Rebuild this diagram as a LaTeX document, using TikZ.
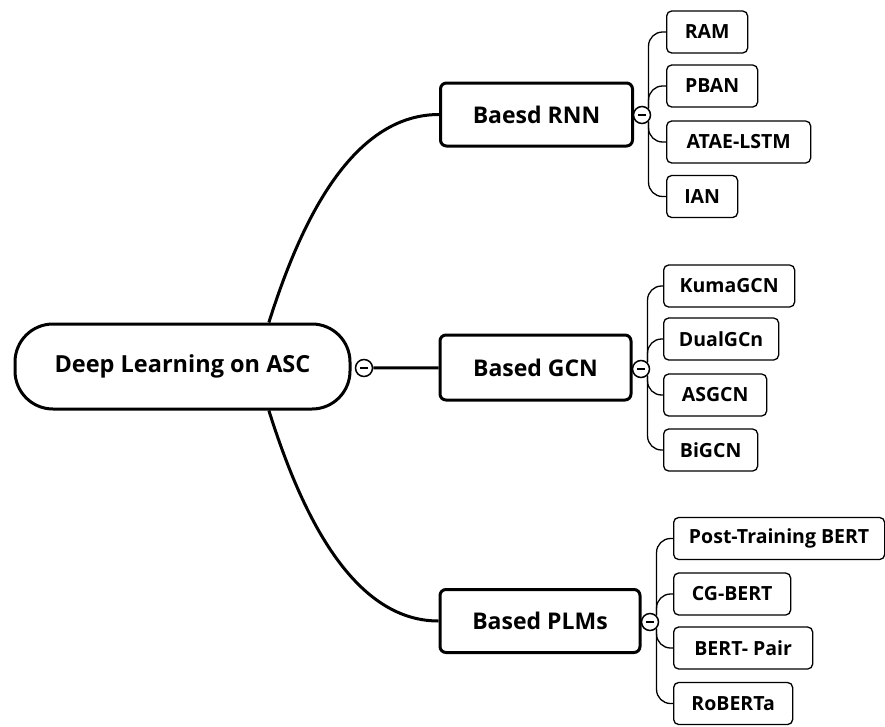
\documentclass[tikz,border=0pt]{standalone}
\usepackage{fontspec}
\setmainfont{Open Sans}
\begin{document}
\begin{tikzpicture}[x=1pt, y=-1pt,
% common options for the root:
hub/.style = {draw, line width=3pt, rounded corners=38pt, minimum width=335pt,
            minimum height=85pt, font=\fontsize{23.5}{27}\selectfont\bfseries},
% common options for the branch boxes:
branch/.style = {draw, line width=3pt, rounded corners=6pt, minimum width=192pt,
            minimum height=63pt, font=\fontsize{23}{27}\selectfont\bfseries},
% common options for the leaf boxes:
leaf/.style = {draw, line width=1.3pt, rounded corners=5pt, anchor=west,
            minimum height=42pt, inner xsep=15pt, font=\fontsize{19.5}{23}\selectfont\bfseries},
% the small collapse buttons:
toggle/.style = {circle, draw, fill=white, line width=1.5pt, minimum size=17pt, inner sep=0},
trunk/.style = {line width=3pt},
twig/.style = {line width=1.3pt, rounded corners=14pt}]
\useasboundingbox (0,0) rectangle (885,726);
\node[hub] (asc) at (182.5,366.5) {Deep Learning on ASC};
\node[toggle] (t0) at (364,368) {\rule{8pt}{2pt}};
\node[branch] (rnn) at (536.5,114.5) {Baesd RNN};
\node[branch, minimum width=191pt, minimum height=65pt] (gcn) at (535.5,367.5) {Based GCN};
\node[branch, minimum width=200pt] (plm) at (540,621) {Based PLMs};
\node[toggle] (t1) at (642,115) {\rule{8pt}{2pt}};
\node[toggle] (t2) at (641,369) {\rule{8pt}{2pt}};
\node[toggle] (t3) at (650,622) {\rule{8pt}{2pt}};
% RNN family
\node[leaf, minimum width=81pt] (rnn1) at (666,32) {RAM};
\node[leaf, minimum width=91pt] (rnn2) at (666,86) {PBAN};
\node[leaf, minimum width=144pt] (rnn3) at (666,142) {ATAE-LSTM};
\node[leaf, minimum width=71pt] (rnn4) at (666,196.5) {IAN};
% GCN family
\node[leaf, minimum width=131pt] (gcn1) at (663,286) {KumaGCN};
\node[leaf, minimum width=115pt] (gcn2) at (663,339) {DualGCn};
\node[leaf, minimum width=103pt] (gcn3) at (663,395) {ASGCN};
\node[leaf, minimum width=94pt] (gcn4) at (663,450) {BiGCN};
% PLM family
\node[leaf, minimum width=211pt] (plm1) at (673,538.5) {Post-Training BERT};
\node[leaf, minimum width=117pt] (plm2) at (673,594) {CG-BERT};
\node[leaf, minimum width=139pt] (plm3) at (673,648) {BERT- Pair};
\node[leaf, minimum width=119pt] (plm4) at (673,703.5) {RoBERTa};
% main branches
\draw[trunk] (asc.27) .. controls (295,240) and (345,114.5) .. (rnn.west);
\draw[trunk] (t0) -- (gcn);
\draw[trunk] (asc.-27) .. controls (295,493) and (345,621) .. (plm.west);
% leaf connectors
\draw[twig] (t1.45) |- (rnn1.west);
\draw[twig] (t1.45) |- (rnn2.west);
\draw[twig] (t1.-45) |- (rnn3.west);
\draw[twig] (t1.-45) |- (rnn4.west);
\draw[twig] (t2.45) |- (gcn1.west);
\draw[twig] (t2.45) |- (gcn2.west);
\draw[twig] (t2.-45) |- (gcn3.west);
\draw[twig] (t2.-45) |- (gcn4.west);
\draw[twig] (t3.45) |- (plm1.west);
\draw[twig] (t3.45) |- (plm2.west);
\draw[twig] (t3.-45) |- (plm3.west);
\draw[twig] (t3.-45) |- (plm4.west);
\end{tikzpicture}
\end{document}
